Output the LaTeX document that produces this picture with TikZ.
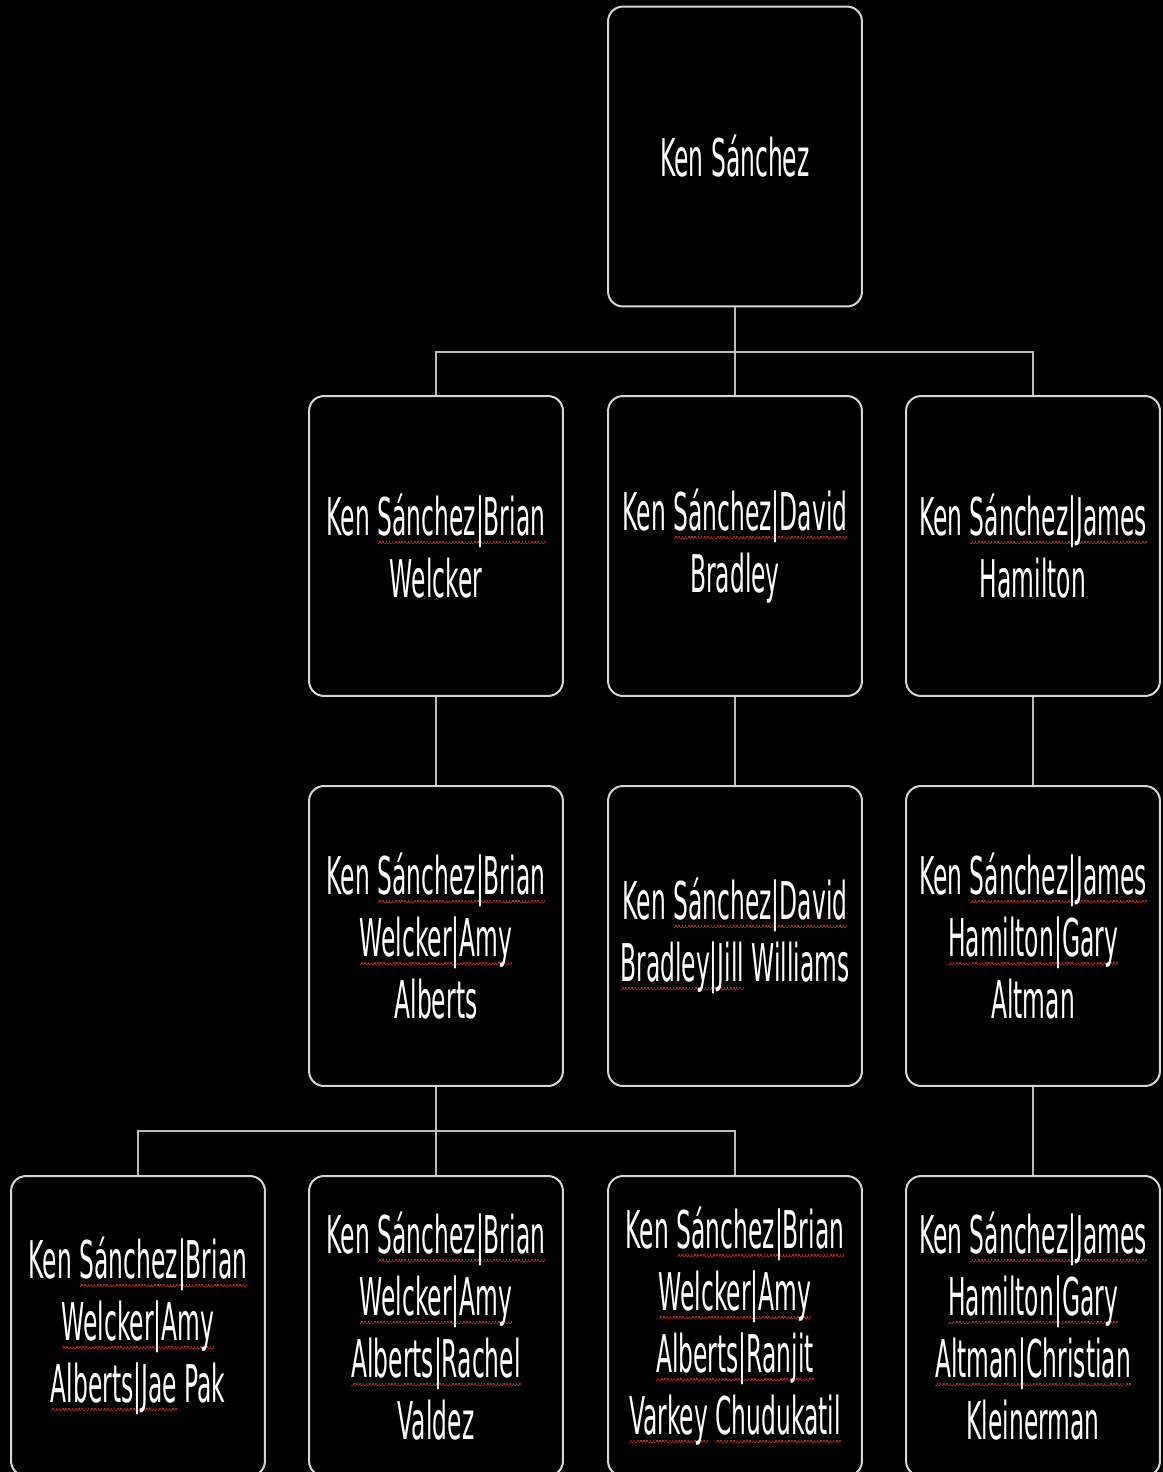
\documentclass[tikz,border=0pt]{standalone}
\usepackage{fontspec}
\usetikzlibrary{positioning}
\newfontfamily\orgfont[FakeStretch=0.45]{DejaVu Sans}
\definecolor{ocPage}{HTML}{000000}
\definecolor{ocInk}{HTML}{FFFFFF}
\definecolor{ocEdge}{HTML}{D6D6D6}
\definecolor{ocLink}{HTML}{BDBDBD}
\definecolor{ocSquig}{HTML}{A82424}
\newsavebox{\sqbox}
\newcommand{\sqtile}{\hbox{\rule[-5pt]{0.9pt}{0.9pt}\rule[-4.1pt]{0.9pt}{0.9pt}}}
\newcommand{\sq}[1]{\sbox{\sqbox}{#1}%
  \rlap{\textcolor{ocSquig}{\hbox to \wd\sqbox{\xleaders\sqtile\hfil}}}%
  \usebox{\sqbox}}
\tikzset{
  every node/.style={text=ocInk},
  person/.style={rectangle, rounded corners=0.30cm, draw=ocEdge,
    fill=ocPage, line width=0.04cm, minimum width=5.08cm,
    minimum height=6.00cm, align=center, inner sep=0pt,
    font={\orgfont\fontsize{29.6}{35.3}\selectfont}},
  link/.style={draw=ocLink, line width=0.035cm},
}

\begin{document}
\begin{tikzpicture}[x=0.02cm,y=-0.02cm]
  \useasboundingbox (0,0) rectangle (1163,1472);
  \fill[ocPage] (0,0) rectangle (1163,1472);

  % Top of the chart.
  \node[person] (root) at (735,156.5) {Ken Sánchez};

  % Direct reports.
  \node[person] (bw) at (436,546) {Ken \sq{Sánchez|Brian}\\Welcker};
  \node[person] (db) at (735,546) {Ken \sq{Sánchez|David}\\Bradley};
  \node[person] (jh) at (1033,546) {Ken \sq{Sánchez|James}\\Hamilton};

  % Second level.
  \node[person] (aa) at (436,936)
    {Ken \sq{Sánchez|Brian}\\\sq{Welcker|Amy}\\Alberts};
  \node[person] (jw) at (735,936)
    {Ken \sq{Sánchez|David}\\\sq{Bradley|Jill} Williams};
  \node[person] (ga) at (1033,936)
    {Ken \sq{Sánchez|James}\\\sq{Hamilton|Gary}\\Altman};

  % Third level, cut by the page edge.
  \node[person] (jp) at (138,1326)
    {Ken \sq{Sánchez|Brian}\\\sq{Welcker|Amy}\\\sq{Alberts|Jae} Pak};
  \node[person] (rv) at (436,1326)
    {Ken \sq{Sánchez|Brian}\\\sq{Welcker|Amy}\\\sq{Alberts|Rachel}\\Valdez};
  \node[person] (rc) at (735,1326)
    {Ken \sq{Sánchez|Brian}\\\sq{Welcker|Amy}\\\sq{Alberts|Ranjit}\\\sq{Varkey} \sq{Chudukatil}};
  \node[person] (ck) at (1033,1326)
    {Ken \sq{Sánchez|James}\\\sq{Hamilton|Gary}\\\sq{Altman|Christian}\\Kleinerman};

  % Elbow connectors.
  \coordinate (busTop) at (735,352);
  \coordinate (busLow) at (436,1131);
  \draw[link] (root) -- (db);
  \draw[link] (bw.north) |- (busTop) -| (jh.north);
  \draw[link] (bw) -- (aa);
  \draw[link] (db) -- (jw);
  \draw[link] (jh) -- (ga);
  \draw[link] (ga) -- (ck);
  \draw[link] (aa) -- (rv);
  \draw[link] (jp.north) |- (busLow) -| (rc.north);
\end{tikzpicture}
\end{document}
